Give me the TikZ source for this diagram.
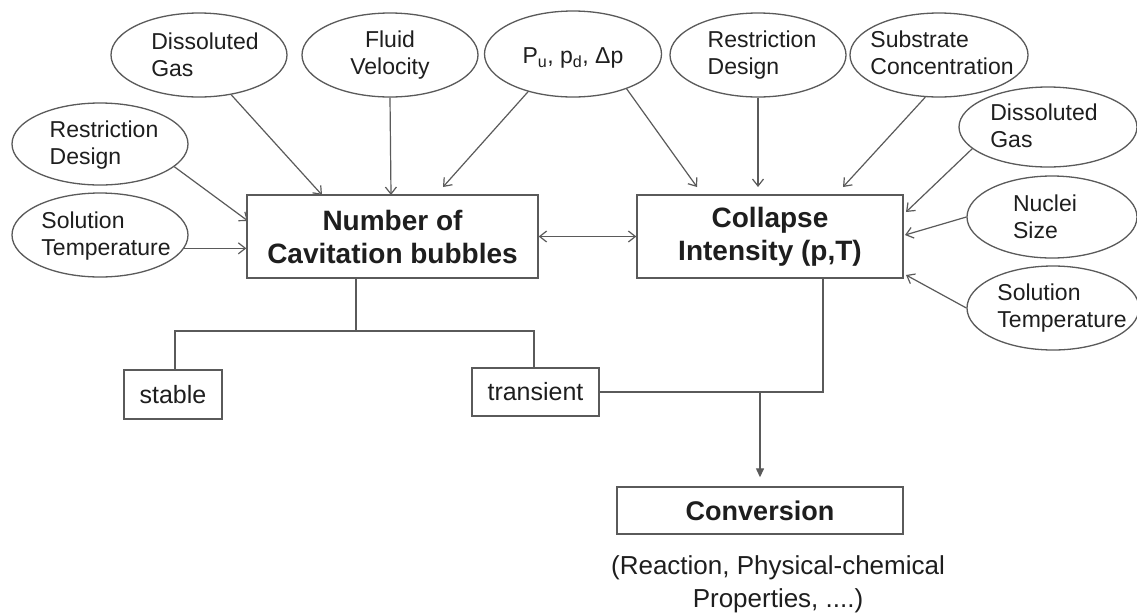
\documentclass[tikz,border=0pt]{standalone}
\usepackage{fontspec}
\setmainfont{Liberation Sans}
\usetikzlibrary{arrows.meta,shapes.geometric,calc}
\newcommand\myfs[2]{\fontsize{#1}{#2}\selectfont}
\definecolor{lc}{HTML}{5A5A5A}
\definecolor{tc}{HTML}{1E1E1E}
\begin{document}
\begin{tikzpicture}[x=1pt,y=-1pt,
  ell/.style={draw=lc,line width=1.3pt,ellipse,inner sep=0pt,minimum width=176pt,minimum height=84pt},
  etxt/.style={text=tc,font=\myfs{23}{27},align=left,inner sep=0pt},
  box/.style={draw=lc,line width=1.4pt,inner sep=0pt,text=tc},
  bbox/.style={box,font=\myfs{28}{33}\bfseries,align=center},
  arr/.style={draw=lc,line width=1.2pt,-{Straight Barb[length=7pt,width=11pt,line width=1.2pt]}},
  arrboth/.style={draw=lc,line width=1.2pt,{Straight Barb[length=7pt,width=11pt,line width=1.2pt]}-{Straight Barb[length=7pt,width=11pt,line width=1.2pt]}},
  ln/.style={draw=lc,line width=1.3pt},
  arrT/.style={draw=lc,line width=1.3pt,-{Triangle[length=9pt,width=8pt]}}
]
\useasboundingbox[fill=white] (0,0) rectangle (1137,614);

% ellipses
\node[ell] (dgL) at (199,55) {};
\node[etxt] (tdgL) at ($(dgL)+(6,0)$) {Dissoluted\\Gas};
\node[ell] (fv) at (390,55) {};
\node[etxt,align=center] (tfv) at (fv) {Fluid\\Velocity};
\node[ell,minimum width=177pt,minimum height=86pt] (pu) at (573,54) {};
\node[etxt] (tpu) at ($(pu)+(0,4)$) {P\textsubscript{u}, p\textsubscript{d}, Δp};
\node[ell] (rdR) at (758,55) {};
\node[etxt] (trdR) at ($(rdR)+(4,0)$) {Restriction\\Design};
\node[ell,minimum width=178pt] (sc) at (939,55) {};
\node[etxt] (tsc) at ($(sc)+(3,-2)$) {Substrate\\Concentration};
\node[ell,minimum width=178pt,minimum height=80pt] (dgR) at (1048,127) {};
\node[etxt] (tdgR) at ($(dgR)+(-4,-1)$) {Dissoluted\\Gas};
\node[ell,minimum width=170pt,minimum height=82pt] (ns) at (1052,217) {};
\node[etxt] (tns) at ($(ns)+(-7,0)$) {Nuclei\\Size};
\node[ell,minimum width=172pt] (stR) at (1053,308) {};
\node[etxt] (tstR) at ($(stR)+(9,0)$) {Solution\\Temperature};
\node[ell,minimum width=176pt,minimum height=82pt] (rdL) at (100,144) {};
\node[etxt] (trdL) at ($(rdL)+(4,1)$) {Restriction\\Design};
\node[ell] (stL) at (100,235) {};
\node[etxt] (tstL) at ($(stL)+(6,1)$) {Solution\\Temperature};

% boxes
\node[bbox,minimum width=291pt,minimum height=83pt] (num) at (392.5,236.5) {Number of\\Cavitation bubbles};
\node[bbox,minimum width=266pt,minimum height=83pt] (col) at (770,236.5) {Collapse\\Intensity (p,T)};
\node[box,font=\myfs{25}{30},minimum width=98pt,minimum height=49pt] (stab) at (173,394.5) {stable};
\node[box,font=\myfs{25}{30},minimum width=127pt,minimum height=48pt] (tr) at (535.5,392) {transient};
\node[box,font=\myfs{27}{30}\bfseries,minimum width=286pt,minimum height=47pt] (conv) at (760,510.5) {Conversion};
\node[text=tc,font=\myfs{26}{33},align=center,inner sep=0pt] (desc) at (778,584) {(Reaction, Physical-chemical\\Properties, ....)};

% arrow targets
\coordinate (a1) at (322,195);
\coordinate (a2) at (391,195);
\coordinate (a3) at (443,187);
\coordinate (b1) at (697,187);
\coordinate (b2) at (758,187);
\coordinate (b3) at (843,187);
\coordinate (b4) at (906,212);
\coordinate (b5) at (905,235);
\coordinate (b6) at (906,275);
\coordinate (a4) at (248,221);

\draw[arr] (dgL.-51) -- (a1);
\draw[arr] (fv.south) -- (a2);
\draw[arr] (pu.-140) -- (a3);
\draw[arr] (rdL.-17) -- (a4);
\draw[arr] (stL.-9) -- (stL.-9 -| num.west);
\draw[arr] (pu.-33) -- (b1);
\draw[arr] (rdR.south) -- (b2);
\draw[arr] (sc.-108) -- (b3);
\draw[arr] (dgR.-164) -- (b4);
\draw[arr] (ns.west) -- (b5);
\draw[arr] (stR.west) -- (b6);
\draw[arrboth] (num.east) -- (col.west);

% tree below
\coordinate (j1) at (356,331);
\coordinate (s1) at (175,331);
\coordinate (t1) at (534,331);
\draw[ln] (j1 |- num.south) -- (j1);
\draw[ln] (stab.north -| s1) -- (s1) -- (t1) -- (tr.north -| t1);
\coordinate (j2) at (823,392);
\draw[ln] (tr.east) -- (j2) -- (j2 |- col.south);
\draw[arrT] (conv.north |- j2) -- ($(conv.north)+(0,-9)$);
\end{tikzpicture}
\end{document}
